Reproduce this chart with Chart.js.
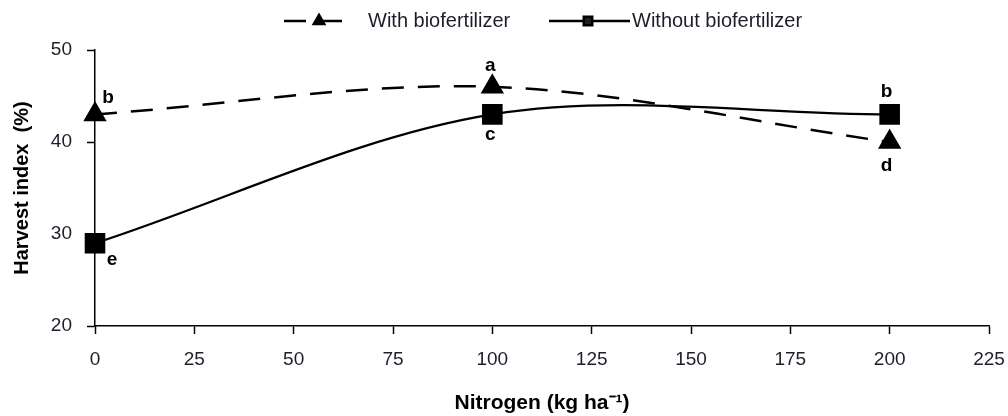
<!DOCTYPE html>
<html>
<head>
<meta charset="utf-8">
<script src="https://cdn.jsdelivr.net/npm/chart.js@4.4.1/dist/chart.umd.min.js"></script>
<style>
    html, body { margin: 0; padding: 0; background: #fff; }
    #wrap { width: 1008px; height: 416px; }
</style>
</head>
<body>
<div id="wrap"><canvas id="harvestChart" width="1008" height="416"></canvas></div>
<script>
const nitrogen = [0, 100, 200];
const withBio = [43, 46, 40];
const withoutBio = [29, 43, 43];
const withLetters = ['b', 'a', 'd'];
const withoutLetters = ['e', 'c', 'b'];
const seriesNames = ['With biofertilizer', 'Without biofertilizer'];

const FONT = "'Liberation Sans', Arial, sans-serif";

document.addEventListener('DOMContentLoaded', () => {
    const ctx = document.getElementById('harvestChart').getContext('2d');

    // letter offsets from each marker, in pixels
    const letterOffsets = [
        [[13, -17], [-2, -21], [-3, 24]],
        [[17, 17], [-2, 20], [-3, -23]]
    ];
    const letterSets = [withLetters, withoutLetters];

    const lettersPlugin = {
        id: 'letters',
        afterDatasetsDraw(chart) {
            const c = chart.ctx;
            c.save();
            c.font = 'bold 19px ' + FONT;
            c.fillStyle = '#000';
            c.textAlign = 'center';
            c.textBaseline = 'middle';
            chart.data.datasets.forEach((ds, i) => {
                chart.getDatasetMeta(i).data.forEach((pt, j) => {
                    const off = letterOffsets[i][j];
                    c.fillText(letterSets[i][j], pt.x + off[0], pt.y + off[1]);
                });
            });
            c.restore();
        }
    };

    // legend drawn by hand: line sample with marker, then name
    const legendPlugin = {
        id: 'lineLegend',
        afterDraw(chart) {
            const c = chart.ctx;
            const items = [
                { x0: 284, x1: 354, mx: 319, tx: 368 },
                { x0: 549, x1: 630, mx: 588, tx: 632 }
            ];
            const y = 21;
            c.save();
            chart.data.datasets.forEach((ds, i) => {
                const it = items[i];
                c.strokeStyle = '#000';
                c.lineWidth = 2.5;
                c.setLineDash(ds.borderDash || []);
                c.beginPath();
                c.moveTo(it.x0, y);
                c.lineTo(it.x1, y);
                c.stroke();
                c.setLineDash([]);
                Chart.helpers.drawPoint(c, { pointStyle: ds.pointStyle, radius: 6, borderWidth: 1 }, it.mx, y);
                c.fillStyle = '#1e1e2a';
                c.font = '20px ' + FONT;
                c.textAlign = 'left';
                c.textBaseline = 'middle';
                c.fillText(ds.label, it.tx, y);
            });
            c.restore();
        }
    };

    new Chart(ctx, {
        type: 'line',
        data: {
            datasets: [
                {
                    label: seriesNames[0],
                    data: nitrogen.map((n, i) => ({ x: n, y: withBio[i] })),
                    borderColor: '#000',
                    backgroundColor: '#000',
                    borderWidth: 2.5,
                    borderDash: [22, 14],
                    tension: 0.33,
                    pointStyle: 'triangle',
                    pointRadius: 11,
                    pointHoverRadius: 11,
                    clip: false
                },
                {
                    label: seriesNames[1],
                    data: nitrogen.map((n, i) => ({ x: n, y: withoutBio[i] })),
                    borderColor: '#000',
                    backgroundColor: '#000',
                    borderWidth: 2.2,
                    tension: 0.33,
                    pointStyle: 'rect',
                    pointRadius: 13,
                    pointHoverRadius: 13,
                    clip: false
                }
            ]
        },
        options: {
            responsive: false,
            animation: false,
            layout: { padding: { top: 50, right: 19, left: 0, bottom: 0 } },
            plugins: {
                legend: { display: false },
                tooltip: { enabled: false }
            },
            scales: {
                x: {
                    type: 'linear',
                    min: 0,
                    max: 225,
                    afterFit: (scale) => {
                        scale.height = 90;
                        scale.paddingLeft = 0;
                        scale.paddingRight = 0;
                    },
                    ticks: {
                        stepSize: 25,
                        color: '#1e1e2a',
                        padding: 14,
                        font: { family: FONT, size: 19 }
                    },
                    grid: {
                        drawOnChartArea: false,
                        tickLength: 8,
                        tickColor: '#000',
                        tickWidth: 1.5
                    },
                    border: { color: '#000', width: 1.5 },
                    title: {
                        display: true,
                        text: 'Nitrogen (kg ha⁻¹)',
                        color: '#000',
                        padding: { top: 0, bottom: 0 },
                        font: { family: FONT, size: 21, weight: 'bold' }
                    }
                },
                y: {
                    min: 20,
                    max: 50,
                    afterFit: (scale) => {
                        scale.width = 95;
                        scale.paddingTop = 0;
                        scale.paddingBottom = 0;
                    },
                    ticks: {
                        stepSize: 10,
                        color: '#1e1e2a',
                        padding: 15,
                        font: { family: FONT, size: 19 }
                    },
                    grid: {
                        drawOnChartArea: false,
                        tickLength: 8,
                        tickColor: '#000',
                        tickWidth: 1.5
                    },
                    border: { color: '#000', width: 1.5 },
                    title: {
                        display: true,
                        text: 'Harvest index  (%)',
                        color: '#000',
                        padding: { top: 10, bottom: 0 },
                        font: { family: FONT, size: 20, weight: 'bold' }
                    }
                }
            }
        },
        plugins: [lettersPlugin, legendPlugin]
    });
});
</script>
</body>
</html>
